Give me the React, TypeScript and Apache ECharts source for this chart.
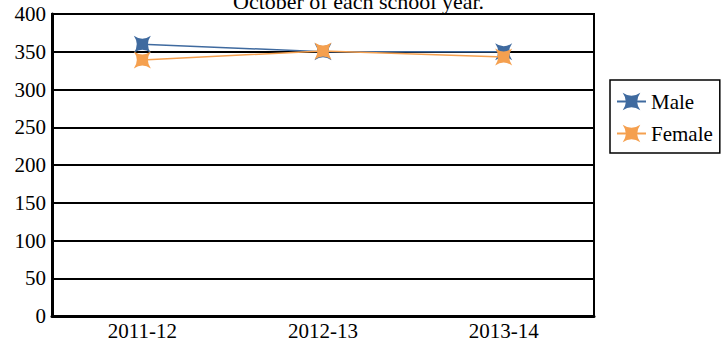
import React, { useEffect, useRef } from "react";
import * as echarts from "echarts";

const categories = ["2011-12", "2012-13", "2013-14"];
const maleValues = [360, 350, 350];
const femaleValues = [339, 351, 343];
const yTicks = { min: 0, max: 400, interval: 50 };
const titleText = "October of each school year.";

const STAR =
  "path://M-10,-10 Q0,-3 10,-10 Q3,0 10,10 Q0,3 -10,10 Q-3,0 -10,-10Z";
const FONT = "Liberation Serif";

export default function App() {
  const ref = useRef<HTMLDivElement>(null);
  useEffect(() => {
    if (!ref.current) return;
    const chart = echarts.init(ref.current, null, { renderer: "svg" });
    chart.setOption({
      animation: false,
      backgroundColor: "#fff",
      textStyle: { fontFamily: FONT },
      graphic: [
        {
          type: "text",
          left: 233,
          top: -10,
          style: {
            text: titleText,
            fontFamily: FONT,
            fontSize: 22,
            fill: "#000",
          },
        },
      ],
      grid: {
        left: 52,
        right: 132,
        top: 14,
        bottom: 27,
        show: true,
        borderColor: "#000",
        borderWidth: 2,
        backgroundColor: "transparent",
      },
      legend: {
        orient: "vertical",
        left: 610,
        top: 80,
        padding: [11, 7, 9, 6],
        itemGap: 11,
        itemWidth: 29,
        itemHeight: 22,
        borderColor: "#000",
        borderWidth: 1.5,
        textStyle: { fontFamily: FONT, fontSize: 21, color: "#000" },
        data: ["Male", "Female"],
      },
      xAxis: {
        type: "category",
        data: categories,
        boundaryGap: true,
        axisLine: { lineStyle: { color: "#000", width: 3 } },
        axisTick: { show: false },
        axisLabel: {
          fontFamily: FONT,
          fontSize: 21,
          color: "#000",
          margin: 4,
        },
        splitLine: { show: false },
      },
      yAxis: {
        type: "value",
        min: yTicks.min,
        max: yTicks.max,
        interval: yTicks.interval,
        axisLine: { show: true, lineStyle: { color: "#000", width: 3 } },
        axisTick: { show: false },
        axisLabel: {
          fontFamily: FONT,
          fontSize: 21,
          color: "#000",
          margin: 6,
        },
        splitLine: { lineStyle: { color: "#000", width: 2 } },
      },
      series: [
        {
          name: "Male",
          type: "line",
          data: maleValues,
          symbol: STAR,
          symbolSize: 17,
          color: "#3F6A9F",
          lineStyle: { width: 1.5, color: "#3F6A9F" },
          itemStyle: { color: "#3F6A9F" },
          z: 3,
        },
        {
          name: "Female",
          type: "line",
          data: femaleValues,
          symbol: STAR,
          symbolSize: 17,
          color: "#F5A04F",
          lineStyle: { width: 1.5, color: "#F5A04F" },
          itemStyle: { color: "#F5A04F" },
          z: 4,
        },
      ],
    });
    return () => chart.dispose();
  }, []);
  return (
    <div
      ref={ref}
      style={{ position: "absolute", left: 0, top: 0, width: 726, height: 343 }}
    />
  );
}
